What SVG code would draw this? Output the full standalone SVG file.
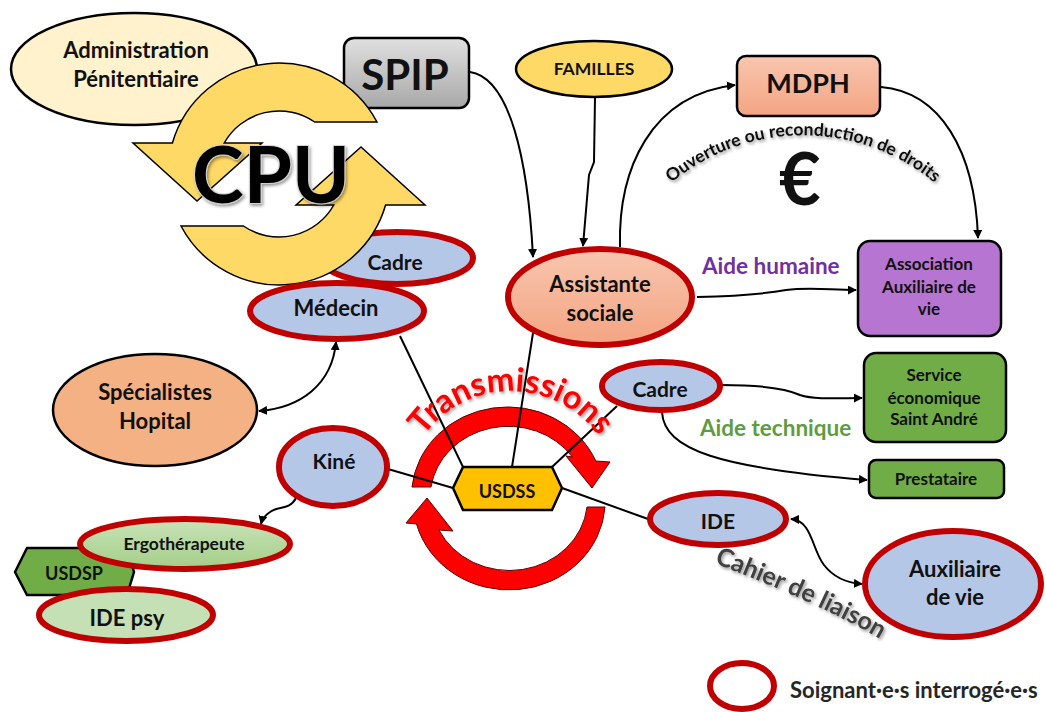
<svg xmlns="http://www.w3.org/2000/svg" width="1046" height="712" viewBox="0 0 1046 712">
<defs>
<style>
text { font-family: Lato, "Open Sans", sans-serif; font-weight: bold; fill: #111; }
.m { text-anchor: middle; }
.red { fill: #B4C7E7; stroke: #C00000; stroke-width: 6; }
.blk { stroke: #000; stroke-width: 2.5; }
.con { fill: none; stroke: #000; stroke-width: 2; }
.arrow { marker-end: url(#arr); }
.both { marker-start: url(#arr); marker-end: url(#arr); }
.ring { fill: #FFD966; stroke: #000; stroke-width: 1.5; }
.tr { fill: #FF0000; stroke: #5a0000; stroke-width: 1; }
</style>
<linearGradient id="gGray" x1="0" y1="0" x2="0" y2="1"><stop offset="0" stop-color="#E0E0E0"/><stop offset="1" stop-color="#A8A8A8"/></linearGradient>
<linearGradient id="gSalmon" x1="0" y1="0" x2="0" y2="1"><stop offset="0" stop-color="#F8C6AF"/><stop offset="1" stop-color="#F4A482"/></linearGradient>
<linearGradient id="gGreen" x1="0" y1="0" x2="0" y2="1"><stop offset="0" stop-color="#C9E3B8"/><stop offset="1" stop-color="#A3CE88"/></linearGradient>
<marker id="arr" viewBox="0 0 10 10" refX="9" refY="5" markerWidth="9" markerHeight="9" markerUnits="userSpaceOnUse" orient="auto-start-reverse"><path d="M0,0 L10,5 L0,10 z" fill="#000"/></marker>
<filter id="sh" x="-10%" y="-20%" width="130%" height="150%"><feDropShadow dx="1.5" dy="2" stdDeviation="1.5" flood-color="#000" flood-opacity="0.4"/></filter>
<path id="pTrans" d="M422,438 A108,108 0 0 1 600,438"/>
<path id="pOuv" d="M670,184 A206,206 0 0 1 936,184"/>
<path id="pCah" d="M714,563 Q824,605 887,643"/>
</defs>
<rect width="1046" height="712" fill="#fff"/>

<g id="transmissions-arrows">
<path class="tr" d="M412,487 A96,89 0 0 1 595.8,461 L610,462 L592,488 L566,456 L572.4,457 A78,71 0 0 0 431,487 Z"/>
<path class="tr" d="M605,507 A96,89 0 0 1 416.5,524 L406,523 L427,498 L453,531 L439,530 A78,71 0 0 0 587,507 Z"/>
</g>

<g id="connectors">
<path class="con arrow" d="M470,72 C510,78 528,160 533,257"/>
<path class="con arrow" d="M595,98 L594,162 L589,175 L583,246"/>
<path class="con arrow" d="M620,247 C618,170 650,95 735,85"/>
<path class="con arrow" d="M881,87 C940,92 975,150 978,238"/>
<path class="con arrow" d="M697,297 C740,296 770,293 786,290 C810,287 830,290 856,290"/>
<path class="con arrow" d="M721,385 C760,385 785,388 800,395 C815,400 840,398 862,398"/>
<path class="con arrow" d="M662,412 C664,450 720,468 867,480"/>
<path class="con both" d="M336,342 C332,385 300,408 259,411"/>
<path class="con" d="M400,336 L463,467"/>
<path class="con" d="M533,333 L512,467"/>
<path class="con" d="M617,406 L552,467"/>
<path class="con" d="M388,469 L453,488"/>
<path class="con" d="M562,488 L648,519"/>
<path class="con arrow" d="M296,498 C290,510 278,506 270,512 C264,516 262,520 261,524"/>
<path class="con both" d="M791,519 C812,520 812,550 824,565 C834,578 848,583 862,584"/>
</g>

<g id="labels">
<text filter="url(#sh)" font-size="33" style="fill:#FF0000"><textPath href="#pTrans" startOffset="50%" text-anchor="middle">Transmissions</textPath></text>
<text filter="url(#sh)" font-size="17.5"><textPath href="#pOuv" startOffset="50%" text-anchor="middle">Ouverture ou reconduction de droits</textPath></text>
<text filter="url(#sh)" font-size="25" style="fill:#404040"><textPath href="#pCah">Cahier de liaison</textPath></text>
<text class="m" x="800" y="205" font-size="72">€</text>
<text x="702" y="274" font-size="22.5" style="fill:#7030A0">Aide humaine</text>
<text x="700" y="436" font-size="22.5" style="fill:#5E9C3F">Aide technique</text>
</g>

<g id="admin">
<ellipse cx="134" cy="69" rx="123" ry="56" fill="#FFF2CC" class="blk"/>
<text class="m" x="136" y="58" font-size="22">Administration</text>
<text class="m" x="136" y="87" font-size="22">Pénitentiaire</text>
</g>

<g id="spip">
<rect x="344" y="38" width="125" height="70" rx="10" fill="url(#gGray)" class="blk"/>
<text class="m" x="405" y="90" font-size="42">SPIP</text>
</g>

<g id="cadre-top">
<ellipse cx="397" cy="258" rx="76" ry="26" class="red"/>
<text class="m" x="395" y="270" font-size="21">Cadre</text>
</g>

<g id="cpu">
<path class="ring" d="M377,122 A111,111 0 0 0 172.4,143 L133,143 L197,201 L262,143 L224.2,143 A63,63 0 0 1 314.6,122 Z"/>
<path class="ring" d="M181,226 A111,111 0 0 0 385.6,205 L425,205 L361,147 L296,205 L333.8,205 A63,63 0 0 1 243.4,226 Z"/>
<text class="m" x="271" y="203" font-size="78" filter="url(#sh)" style="stroke:#d0d0d0;stroke-width:2;paint-order:stroke;fill:#000">CPU</text>
</g>

<g id="medecin">
<ellipse cx="337" cy="311" rx="87" ry="28" class="red"/>
<text class="m" x="336" y="316" font-size="22">Médecin</text>
</g>

<g id="specialistes">
<ellipse cx="155" cy="410" rx="102" ry="56" fill="#F4B183" class="blk"/>
<text class="m" x="155" y="400" font-size="22">Spécialistes</text>
<text class="m" x="155" y="429" font-size="22">Hopital</text>
</g>

<g id="kine">
<ellipse cx="333" cy="467" rx="54" ry="39" class="red"/>
<text class="m" x="334" y="469" font-size="21">Kiné</text>
</g>

<g id="usdsp">
<polygon points="15,572 27,548 127,548 134,572 127,595 27,595" fill="#70AD47" class="blk"/>
<text class="m" x="74" y="580" font-size="18">USDSP</text>
</g>

<g id="ergo">
<ellipse cx="185" cy="544" rx="105" ry="25" class="red" style="fill:url(#gGreen)"/>
<text class="m" x="184" y="550" font-size="17.5">Ergothérapeute</text>
</g>

<g id="ide-psy">
<ellipse cx="126" cy="615" rx="87" ry="26" class="red" style="fill:#C5E0B4"/>
<text class="m" x="127" y="626" font-size="22">IDE psy</text>
</g>

<g id="familles">
<ellipse cx="594" cy="69" rx="78" ry="28" fill="#FFD966" class="blk"/>
<text class="m" x="594" y="75" font-size="17.5">FAMILLES</text>
</g>

<g id="assistante">
<ellipse cx="600" cy="297" rx="92" ry="48" class="red" style="fill:url(#gSalmon)"/>
<text class="m" x="600" y="292" font-size="22">Assistante</text>
<text class="m" x="600" y="321" font-size="22">sociale</text>
</g>

<g id="mdph">
<rect x="737" y="56" width="143" height="60" rx="9" fill="url(#gSalmon)" class="blk"/>
<text class="m" x="808" y="93" font-size="27">MDPH</text>
</g>

<g id="association">
<rect x="858" y="241" width="143" height="95" rx="12" fill="#B575D0" class="blk"/>
<text class="m" x="929" y="270" font-size="17">Association</text>
<text class="m" x="929" y="293" font-size="17">Auxiliaire de</text>
<text class="m" x="929" y="315" font-size="17">vie</text>
</g>

<g id="service">
<rect x="864" y="353" width="142" height="89" rx="12" fill="#70AD47" class="blk"/>
<text class="m" x="934" y="381" font-size="17">Service</text>
<text class="m" x="934" y="404" font-size="17">économique</text>
<text class="m" x="934" y="425" font-size="17">Saint André</text>
</g>

<g id="prestataire">
<rect x="869" y="460" width="135" height="38" rx="7" fill="#70AD47" class="blk"/>
<text class="m" x="936" y="485" font-size="17">Prestataire</text>
</g>

<g id="cadre-right">
<ellipse cx="661" cy="386" rx="59" ry="24" class="red"/>
<text class="m" x="660" y="397" font-size="21">Cadre</text>
</g>

<g id="usdss">
<polygon points="453,488 463,467 552,467 562,488 552,510 463,510" fill="#FFC000" class="blk"/>
<text class="m" x="507" y="498" font-size="18">USDSS</text>
</g>

<g id="ide">
<ellipse cx="718" cy="519" rx="68" ry="26" class="red"/>
<text class="m" x="718" y="529" font-size="21">IDE</text>
</g>

<g id="auxiliaire">
<ellipse cx="953" cy="584" rx="88" ry="53" class="red"/>
<text class="m" x="955" y="577" font-size="22">Auxiliaire</text>
<text class="m" x="955" y="605" font-size="22">de vie</text>
</g>

<g id="legend">
<ellipse cx="742" cy="686" rx="32" ry="23" fill="#fff" stroke="#C00000" stroke-width="6"/>
<text x="790" y="698" font-size="22" style="fill:#262626">Soignant·e·s interrogé·e·s</text>
</g>
</svg>
